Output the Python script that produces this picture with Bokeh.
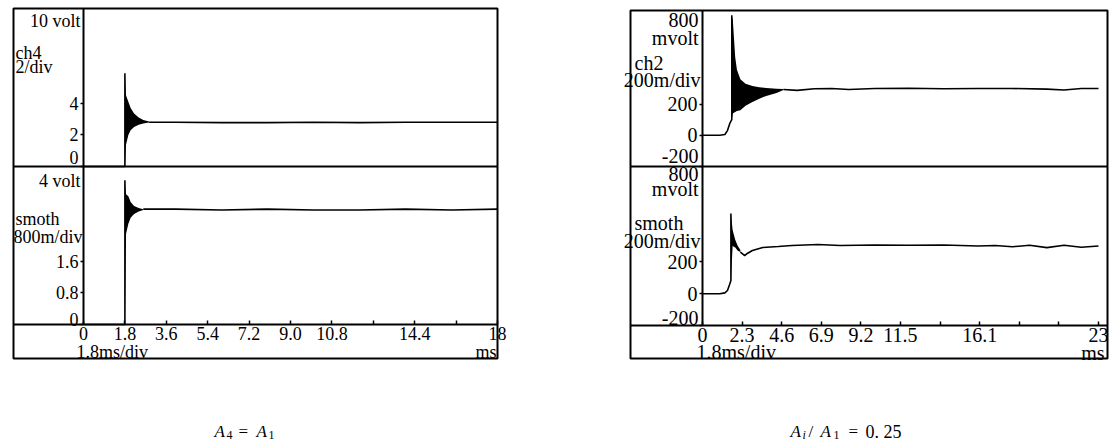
from bokeh.plotting import figure
from bokeh.models import Range1d, LinearAxis, FixedTicker, Label, BoxAnnotation
from bokeh.layouts import row
from bokeh.embed import file_html
from bokeh.resources import INLINE

# ---------------- data (time in ms) ----------------
# Left oscilloscope:  A4 = A1  (volts)
ch4_pre_t = [0.0, 1.8, 1.8]
ch4_pre_v = [0.0, 0.0, 5.9]
ch4_env_t = [1.80, 1.85, 1.95, 2.05, 2.20, 2.40, 2.60, 2.85]
ch4_env_hi = [5.9, 4.5, 4.1, 3.7, 3.35, 3.1, 2.95, 2.85]
ch4_env_lo = [0.0, 1.4, 2.0, 2.3, 2.5, 2.65, 2.72, 2.78]
ch4_tail_t = [2.85, 4.0, 6.0, 8.0, 10.0, 12.0, 14.0, 16.0, 18.0]
ch4_tail_v = [2.8, 2.8, 2.78, 2.78, 2.8, 2.78, 2.8, 2.8, 2.8]

sm4_pre_t = [0.0, 1.8, 1.8]
sm4_pre_v = [0.0, 0.0, 3.65]
sm4_env_t = [1.80, 1.85, 1.95, 2.05, 2.20, 2.40, 2.60]
sm4_env_hi = [3.65, 3.3, 3.25, 3.1, 3.0, 2.95, 2.92]
sm4_env_lo = [0.0, 2.3, 2.55, 2.7, 2.8, 2.86, 2.9]
sm4_tail_t = [2.6, 4.0, 6.0, 8.0, 10.0, 12.0, 14.0, 16.0, 18.0]
sm4_tail_v = [2.92, 2.92, 2.9, 2.92, 2.9, 2.9, 2.92, 2.9, 2.92]

left_x_ticks = [0, 1.8, 3.6, 5.4, 7.2, 9.0, 10.8, 12.6, 14.4, 16.2, 18]
left_x_labels = ["0", "1.8", "3.6", "5.4", "7.2", "9.0", "10.8", "", "14.4", "", "18"]
left_top_ticks = [0, 2, 4]
left_top_labels = ["0", "2", "4"]
left_bot_ticks = [0, 0.8, 1.6]
left_bot_labels = ["0", "0.8", "1.6"]

# Right oscilloscope:  Ai/A1 = 0.25  (mV)
ch2_pre_t = [0.0, 1.0, 1.30, 1.45, 1.60, 1.70, 1.70]
ch2_pre_v = [0, 0, 5, 30, 80, 100, 770]
ch2_env_t = [1.70, 1.76, 1.90, 2.00, 2.20, 2.50, 2.90, 3.30, 3.70, 4.30, 4.70]
ch2_env_hi = [770, 740, 500, 420, 360, 330, 316, 308, 303, 298, 297]
ch2_env_lo = [100, 140, 150, 155, 160, 190, 214, 235, 252, 271, 290]
ch2_tail_t = [4.7, 5.5, 6.5, 7.5, 8.5, 10, 12, 14, 16, 18, 20, 21, 22, 23]
ch2_tail_v = [294, 288, 298, 300, 294, 300, 302, 298, 300, 300, 296, 290, 300, 300]

sm2_pre_t = [0.0, 1.0, 1.30, 1.45, 1.58, 1.65, 1.65]
sm2_pre_v = [0, 0, 5, 20, 60, 83, 504]
sm2_env_t = [1.65, 1.75, 1.90, 2.05, 2.20]
sm2_env_hi = [504, 400, 340, 300, 275]
sm2_env_lo = [83, 300, 290, 270, 262]
sm2_tail_t = [2.2, 2.45, 2.6, 2.9, 3.5, 4.4, 5.2, 6.7, 8, 10, 12, 14, 16, 17, 18, 19, 20, 21, 22, 23]
sm2_tail_v = [262, 240, 253, 272, 291, 297, 303, 309, 303, 306, 305, 306, 300, 303, 295, 305, 290, 305, 292, 300]

right_x_ticks = [0, 2.3, 4.6, 6.9, 9.2, 11.5, 13.8, 16.1, 18.4, 20.7, 23]
right_x_labels = ["0", "2.3", "4.6", "6.9", "9.2", "11.5", "", "16.1", "", "", "23"]
right_y_ticks = [-200, 0, 200]
right_y_labels = ["-200", "0", "200"]

FONT = "Liberation Serif"
H = 442


class Panel:
    """Geometry helper: one oscilloscope print (pixel layout only)."""

    def __init__(self, canvas_left, canvas_w, box, x0_px, xend_val, xend_px,
                 sep_px, axis_px, bot_lo, bot_hi, top_lo, top_hi, top_px):
        self.cl, self.cw, self.box = canvas_left, canvas_w, box
        self.x0, self.ppx = x0_px, (xend_px - x0_px) / xend_val
        self.sep, self.axis = sep_px, axis_px
        self.bot_lo, self.bot_hi = bot_lo, bot_hi
        self.top_lo, self.top_hi = top_lo, top_hi
        self.kb = (axis_px - sep_px) / (bot_hi - bot_lo)
        self.kt = (sep_px - top_px) / (top_hi - top_lo)

    def dx(self, px):
        return (px - self.x0) / self.ppx

    def dy(self, py):
        return self.bot_lo + (self.axis - py) / self.kb

    def dyt(self, py):
        return self.top_lo + (self.sep - py) / self.kt


def build(g, xt, xl, tt, tl, bt, bl, fs):
    p = figure(width=g.cw, height=H, output_backend="svg",
               toolbar_location=None, x_axis_type=None, y_axis_type=None,
               min_border=0)
    p.outline_line_color = None
    p.background_fill_color = "white"
    p.border_fill_color = "white"
    p.x_range = Range1d(g.dx(g.cl), g.dx(g.cl + g.cw))
    p.y_range = Range1d(g.dy(H), g.dy(0))
    p.extra_y_ranges = {"top": Range1d(g.dyt(H), g.dyt(0))}
    bl_, bt_, br_, bb_ = g.box
    xb = (g.dx(bl_), g.dx(br_))

    def style(ax):
        ax.axis_line_width = 2
        ax.major_tick_line_width = 1.5
        ax.minor_tick_line_color = None
        ax.major_label_text_font = FONT
        ax.major_label_text_font_size = fs
        ax.major_label_text_color = "black"
        ax.major_label_standoff = 2

    # the lowest label of each trace is printed just above its baseline
    # (added as text below), so the axis shows it blank
    yb = LinearAxis(fixed_location=0, bounds=(g.bot_lo, g.bot_hi),
                    ticker=FixedTicker(ticks=bt),
                    major_label_overrides=dict(zip(bt, [""] + bl[1:])))
    style(yb)
    yb.major_tick_out = 3
    yb.major_tick_in = 0
    p.add_layout(yb, "left")
    yt = LinearAxis(y_range_name="top", fixed_location=0,
                    bounds=(g.top_lo, g.top_hi),
                    ticker=FixedTicker(ticks=tt),
                    major_label_overrides=dict(zip(tt, [""] + tl[1:])))
    style(yt)
    yt.major_tick_out = 3
    yt.major_tick_in = 0
    p.add_layout(yt, "left")
    xa = LinearAxis(fixed_location=g.bot_lo, bounds=xb,
                    ticker=FixedTicker(ticks=xt),
                    major_label_overrides=dict(zip(xt, xl)))
    style(xa)
    xa.major_tick_in = 4
    xa.major_tick_out = 0
    p.add_layout(xa, "below")
    # separator between the two traces (top trace's baseline)
    xs = LinearAxis(fixed_location=g.bot_hi, bounds=xb,
                    ticker=FixedTicker(ticks=[]))
    style(xs)
    xs.major_label_text_font_size = "0px"
    p.add_layout(xs, "below")
    # outer frame of the print
    p.add_layout(BoxAnnotation(left=g.dx(bl_), right=g.dx(br_),
                               top=g.dy(bt_), bottom=g.dy(bb_),
                               fill_color=None, fill_alpha=0,
                               line_color="black", line_alpha=1.0,
                               line_width=2, level="overlay"))
    return p


def txt(p, g, gx, gy, s, align="left", size="18px", style="normal",
        baseline="middle"):
    p.add_layout(Label(x=g.dx(gx), y=g.dy(gy), text=s, text_align=align,
                       text_baseline=baseline, text_font=FONT,
                       text_font_size=size, text_font_style=style,
                       text_color="black"))


def caption(p, g, parts, base_y):
    # parts: (x, text, size, style, subscript)
    for gx, s, size, style, sub in parts:
        txt(p, g, gx, base_y + (3 if sub else 0), s, "left", size, style,
            "alphabetic")


def traces(p, pre_t, pre_v, env_t, lo, hi, tail_t, tail_v, rng=None):
    kw = {"y_range_name": rng} if rng else {}
    p.varea(x=env_t, y1=lo, y2=hi, fill_color="black", **kw)
    p.line(pre_t, pre_v, line_color="black", line_width=1.6, **kw)
    p.line(tail_t, tail_v, line_color="black", line_width=1.6, **kw)


# ---------------- left figure ----------------
gl = Panel(0, 555, (13, 8, 497, 358), 83, 18, 497, 166, 324, 0, 4, 0, 10, 8)
pl = build(gl, left_x_ticks, left_x_labels, left_top_ticks, left_top_labels,
           left_bot_ticks, left_bot_labels, "18px")
traces(pl, ch4_pre_t, ch4_pre_v, ch4_env_t, ch4_env_lo, ch4_env_hi,
       ch4_tail_t, ch4_tail_v, "top")
traces(pl, sm4_pre_t, sm4_pre_v, sm4_env_t, sm4_env_lo, sm4_env_hi,
       sm4_tail_t, sm4_tail_v)
txt(pl, gl, 80, 20, "10 volt", "right")
txt(pl, gl, 15, 52, "ch4")
txt(pl, gl, 15, 66, "2/div")
txt(pl, gl, 78, 157, left_top_labels[0], "right")
txt(pl, gl, 80, 180, "4 volt", "right")
txt(pl, gl, 15, 218, "smoth")
txt(pl, gl, 82, 236, "800m/div", "right")
txt(pl, gl, 78, 319, left_bot_labels[0], "right")
txt(pl, gl, 76, 351, "1.8ms/div")
txt(pl, gl, 496, 351, "ms", "right")
caption(pl, gl, [(214, "A", "17px", "italic", False),
                 (226, "4", "12px", "normal", True),
                 (238, "=", "17px", "normal", False),
                 (256, "A", "17px", "italic", False),
                 (268, "1", "12px", "normal", True)], 431)

# ---------------- right figure ----------------
gr = Panel(555, 555, (630, 10, 1107, 358), 702, 23, 1098, 166, 325,
           -200, 800, -200, 800, 10)
pr = build(gr, right_x_ticks, right_x_labels, right_y_ticks, right_y_labels,
           right_y_ticks, right_y_labels, "20px")
traces(pr, ch2_pre_t, ch2_pre_v, ch2_env_t, ch2_env_lo, ch2_env_hi,
       ch2_tail_t, ch2_tail_v, "top")
traces(pr, sm2_pre_t, sm2_pre_v, sm2_env_t, sm2_env_lo, sm2_env_hi,
       sm2_tail_t, sm2_tail_v)
txt(pr, gr, 698, 19, "800", "right", "20px")
txt(pr, gr, 698, 37, "mvolt", "right", "20px")
txt(pr, gr, 634, 62, "ch2", "left", "20px")
txt(pr, gr, 700, 79, "200m/div", "right", "20px")
txt(pr, gr, 698, 155, right_y_labels[0], "right", "20px")
txt(pr, gr, 698, 173, "800", "right", "20px")
txt(pr, gr, 698, 188, "mvolt", "right", "20px")
txt(pr, gr, 634, 222, "smoth", "left", "20px")
txt(pr, gr, 700, 240, "200m/div", "right", "20px")
txt(pr, gr, 698, 317, right_y_labels[0], "right", "20px")
txt(pr, gr, 696, 351, "1.8ms/div", "left", "20px")
txt(pr, gr, 1104, 352, "ms", "right", "20px")
caption(pr, gr, [(790, "A", "17px", "italic", False),
                 (802, "i", "12px", "italic", True),
                 (808, "/", "17px", "normal", False),
                 (820, "A", "17px", "italic", False),
                 (833, "1", "12px", "normal", True),
                 (848, "=", "17px", "normal", False),
                 (865, "0. 25", "18px", "normal", False)], 431)

layout = row(pl, pr, spacing=0)
open("out.html", "w").write(file_html(layout, INLINE))
